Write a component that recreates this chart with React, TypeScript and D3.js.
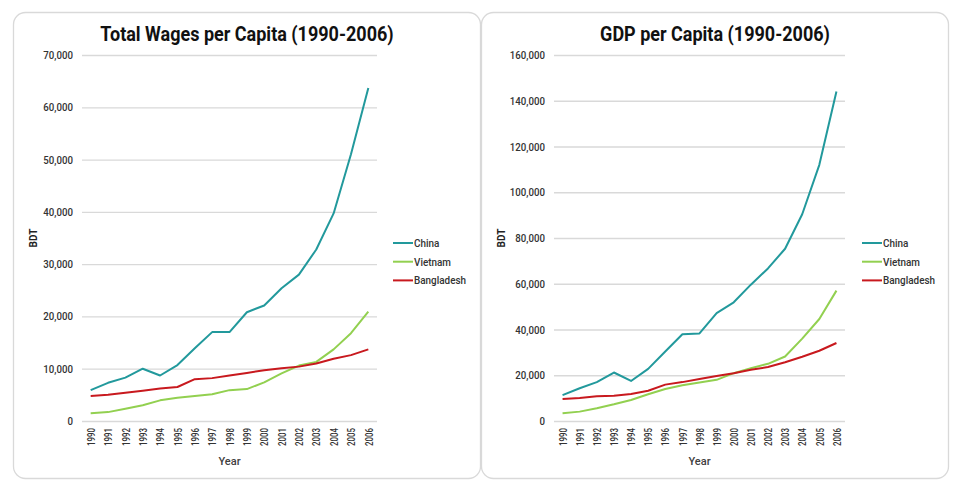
import React, { useRef, useEffect } from "react";
import { select, scaleLinear, scalePoint, line, axisLeft, axisBottom, format, range } from "d3";

const years = ["1990","1991","1992","1993","1994","1995","1996","1997","1998","1999","2000","2001","2002","2003","2004","2005","2006"];
const countries = ["China", "Vietnam", "Bangladesh"];
const colors = ["#22999c", "#92d050", "#c8191e"];

// wages per capita (BDT)
const wageChina = [5900, 7300, 8300, 10000, 8700, 10700, 13900, 17000, 17000, 20800, 22100, 25400, 28000, 32800, 39700, 51000, 63700];
const wageVietnam = [1500, 1700, 2350, 3000, 3950, 4450, 4800, 5100, 5900, 6100, 7400, 9100, 10600, 11300, 13700, 16800, 20900];
const wageBangladesh = [4800, 5000, 5400, 5800, 6200, 6500, 8000, 8200, 8700, 9200, 9700, 10100, 10400, 11000, 11900, 12600, 13700];

// gdp per capita (BDT)
const gdpChina = [11300, 14300, 17000, 21200, 17500, 22800, 30400, 37900, 38300, 47200, 51900, 59600, 66700, 75300, 90400, 112000, 144000];
const gdpVietnam = [3400, 4100, 5600, 7300, 9200, 11700, 14000, 15600, 16800, 18000, 20900, 23100, 25000, 28200, 36000, 44600, 57000];
const gdpBangladesh = [9600, 10100, 10800, 11000, 11800, 13200, 15900, 17000, 18400, 19700, 20900, 22400, 23600, 25700, 28100, 30700, 34100];

const font = "Roboto, 'Noto Sans', sans-serif";

// original font is a condensed one, squeeze Roboto text a bit
function squeeze(sel, k) {
  sel.each(function () {
    const w = this.getComputedTextLength();
    select(this).attr("textLength", w * k).attr("lengthAdjust", "spacingAndGlyphs");
  });
}

function Panel({ title, series, yMax, yStep, cardX, plotLeft, plotRight, legendX }) {
  const gRef = useRef();

  useEffect(() => {
    const g = select(gRef.current);
    g.selectAll("*").remove();

    const top = 55, bottom = 421;
    const x = scalePoint().domain(years).range([plotLeft, plotRight]).padding(0.5);
    const y = scaleLinear().domain([0, yMax]).range([bottom, top]);

    // card
    g.append("rect")
      .attr("x", cardX + 0.5).attr("y", 12.5)
      .attr("width", 467).attr("height", 466)
      .attr("rx", 12)
      .attr("fill", "#fff")
      .attr("stroke", "#d9d9d9")
      .attr("stroke-width", 1.3);

    g.append("text")
      .attr("x", cardX + 234).attr("y", 41)
      .attr("text-anchor", "middle")
      .attr("font-family", font)
      .attr("font-weight", 700)
      .attr("font-size", 20)
      .attr("fill", "#111")
      .text(title)
      .call(squeeze, 0.9);

    // grid + y axis
    const yAxis = axisLeft(y)
      .tickValues(range(0, yMax + 1, yStep))
      .tickSize(-(plotRight - plotLeft))
      .tickPadding(9)
      .tickFormat(format(","));
    const ya = g.append("g").attr("transform", `translate(${plotLeft},0)`).call(yAxis);
    ya.select(".domain").remove();
    ya.selectAll("line").attr("stroke", "#d9d9d9").attr("stroke-width", 1.3);
    ya.selectAll("text")
      .attr("font-family", font).attr("font-size", 11).attr("font-weight", 500).attr("fill", "#333")
      .call(squeeze, 0.88);

    const xAxis = axisBottom(x).tickSize(0).tickPadding(0);
    const xa = g.append("g").attr("transform", `translate(0,${bottom})`).call(xAxis);
    xa.select(".domain").remove();
    xa.selectAll("text")
      .attr("font-family", font).attr("font-size", 10.5).attr("font-weight", 500).attr("fill", "#333")
      .attr("transform", "rotate(-90)")
      .attr("text-anchor", "end")
      .attr("x", -7).attr("y", 0).attr("dy", "0.35em")
      .call(squeeze, 0.75);

    g.append("text")
      .attr("x", (plotLeft + plotRight) / 2).attr("y", 465)
      .attr("text-anchor", "middle")
      .attr("font-family", font).attr("font-size", 11).attr("font-weight", 500).attr("fill", "#404040")
      .text("Year");

    g.append("text")
      .attr("transform", `translate(${cardX + 24},238) rotate(-90)`)
      .attr("text-anchor", "middle")
      .attr("font-family", font).attr("font-size", 10).attr("font-weight", 700).attr("fill", "#222")
      .text("BDT");

    const path = line().x((d, i) => x(years[i])).y((d) => y(d));
    series.forEach((vals, i) => {
      g.append("path")
        .attr("d", path(vals))
        .attr("fill", "none")
        .attr("stroke", colors[i])
        .attr("stroke-width", 2)
        .attr("stroke-linejoin", "round");
    });

    // legend
    countries.forEach((c, i) => {
      const ly = 243 + i * 18.7;
      g.append("line")
        .attr("x1", legendX).attr("x2", legendX + 20)
        .attr("y1", ly).attr("y2", ly)
        .attr("stroke", colors[i]).attr("stroke-width", 2);
      g.append("text")
        .attr("x", legendX + 21).attr("y", ly).attr("dy", "0.35em")
        .attr("font-family", font).attr("font-size", 11).attr("font-weight", 500).attr("fill", "#333")
        .text(c)
        .call(squeeze, 0.9);
    });
  }, [title, series, yMax]);

  return <g ref={gRef} />;
}

export default function App() {
  return (
    <svg width={956} height={485} style={{ position: "absolute", left: 0, top: 0, background: "#fff" }}>
      <Panel
        title="Total Wages per Capita (1990-2006)"
        series={[wageChina, wageVietnam, wageBangladesh]}
        yMax={70000} yStep={10000}
        cardX={13} plotLeft={82} plotRight={377} legendX={393}
      />
      <Panel
        title="GDP per Capita (1990-2006)"
        series={[gdpChina, gdpVietnam, gdpBangladesh]}
        yMax={160000} yStep={20000}
        cardX={481} plotLeft={554} plotRight={845} legendX={862}
      />
    </svg>
  );
}
